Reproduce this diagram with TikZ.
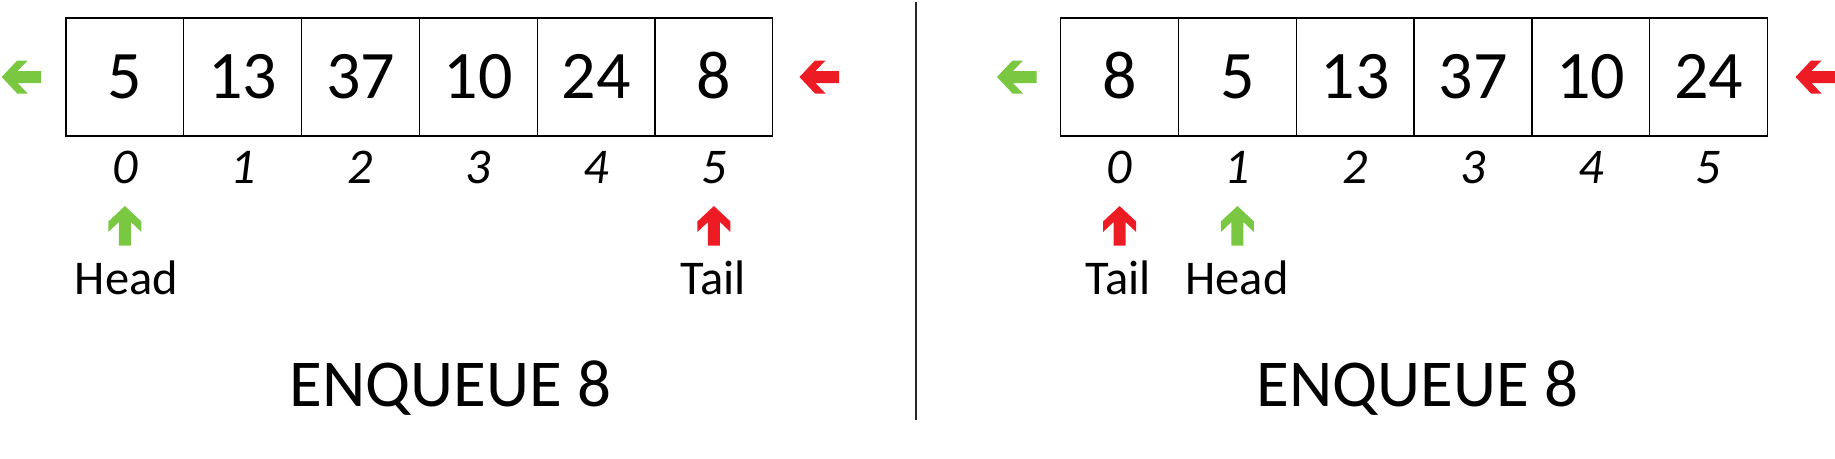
\documentclass[tikz,border=0pt]{standalone}
\usepackage{fontspec}
\setmainfont{Carlito}
\definecolor{qgreen}{RGB}{122,200,66}
\definecolor{qred}{RGB}{237,28,36}
\tikzset{
  cell/.style={draw=black, line width=1.3pt, rectangle, minimum width=117.8pt, minimum height=118pt,
    inner sep=0pt, text height=43pt, text depth=0pt, font=\fontsize{68}{68}\selectfont},
  idx/.style={anchor=base, inner sep=0pt, font=\fontsize{50}{50}\selectfont\itshape},
  lbl/.style={anchor=base, inner sep=0pt, font=\fontsize{48.5}{48.5}\selectfont},
  title/.style={anchor=base, inner sep=0pt, font=\fontsize{67}{67}\selectfont},
  pics/blockarr/.style={code={
    \fill[#1] (0,0) -- (-15.5,16.5) -- (-26,16.5) -- (-16,6) -- (-39.5,6) -- (-39.5,-6)
      -- (-16,-6) -- (-26,-16.5) -- (-15.5,-16.5) -- cycle;}}
}
\begin{document}
\begin{tikzpicture}[x=1pt,y=-1pt]
\useasboundingbox (0,0) rectangle (1835,458);
% left array
\foreach \v [count=\i from 0] in {5,13,37,10,24,8}{
  \node[cell] (L\i) at ({66+58.9+\i*117.8},77) {\v};
  \node[idx] (LI\i) at ({66+58.9+\i*117.8},183) {\i};
}
% right array
\foreach \v [count=\i from 0] in {8,5,13,37,10,24}{
  \node[cell] (R\i) at ({1060.7+58.9+\i*117.8},77) {\v};
  \node[idx] (RI\i) at ({1060.7+58.9+\i*117.8},183) {\i};
}
% side arrows
\pic[rotate=180] at (1.7,77) {blockarr=qgreen};
\pic[rotate=180] at (799.5,77) {blockarr=qred};
\pic[rotate=180] at (997,77) {blockarr=qgreen};
\pic[rotate=180] at (1795.5,77) {blockarr=qred};
% pointer arrows
\pic[rotate=90] at (L0.center |- 0,206) {blockarr=qgreen};
\pic[rotate=90] at (L5.center |- 0,206) {blockarr=qred};
\pic[rotate=90] at (R0.center |- 0,206) {blockarr=qred};
\pic[rotate=90] at (R1.center |- 0,206) {blockarr=qgreen};
% labels
\node[lbl] (LH) at (126.5,294) {Head};
\node[lbl] (LT) at (713,294) {Tail};
\node[lbl] (RT) at (1118,294) {Tail};
\node[lbl] (RH) at (1237,294) {Head};
% titles
\node[title] (LE) at (450.5,406) {ENQUEUE 8};
\node[title] (RE) at (1417.5,406) {ENQUEUE 8};
% divider
\coordinate (dtop) at (916,2);
\coordinate (dbot) at (916,420);
\draw[line width=1.3pt, black!85] (dtop) -- (dbot);
\end{tikzpicture}
\end{document}
